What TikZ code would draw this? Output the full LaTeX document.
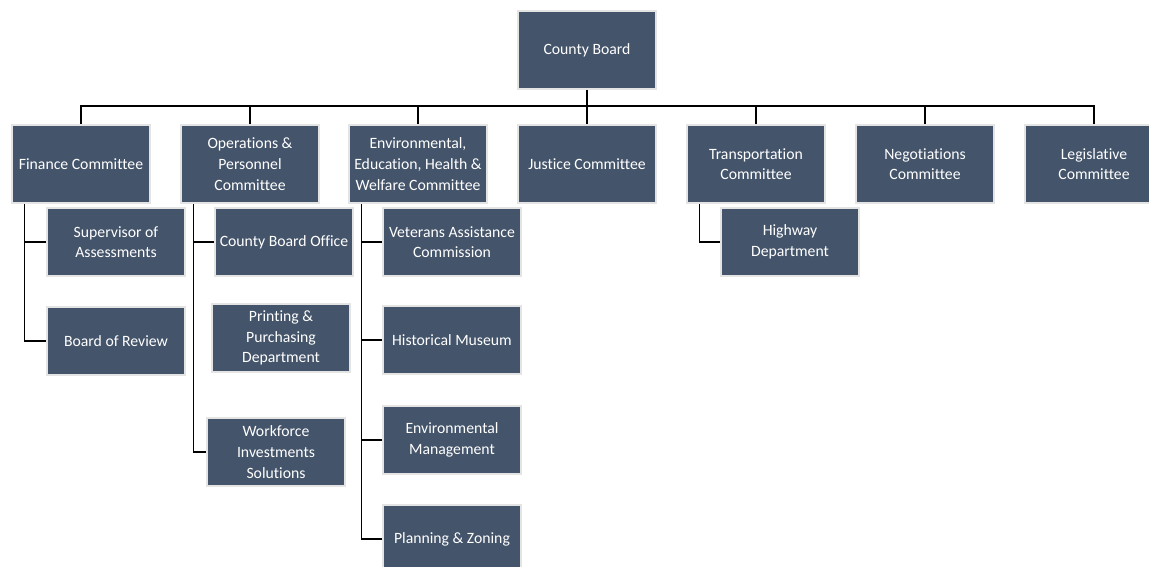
\documentclass[tikz,border=0pt]{standalone}
\usepackage{fontspec}
\setmainfont{Carlito}[Ligatures=CommonOff, RawFeature={-liga}]
\usetikzlibrary{positioning}
\definecolor{boxblue}{HTML}{44546A}
\definecolor{boxrim}{HTML}{E4E4E4}

\begin{document}
\begin{tikzpicture}[x=0.75pt, y=-0.75pt,
  unit/.style={draw=boxrim, line width=1.7pt, fill=boxblue, text=white,
    align=center, inner sep=0pt, font=\fontsize{11.8}{15.5}\selectfont},
  cmte/.style={unit, minimum width=104pt, minimum height=59pt},
  dept/.style={unit, minimum width=103pt, minimum height=51.5pt},
  link/.style={line width=1pt}]
  \useasboundingbox (0,0) rectangle (1149,567);

  %board and committees
  \node[cmte] (board) at (587,50) {County Board};
  \node[cmte] (fin)   at (81,164)   {Finance Committee};
  \node[cmte] (ops)   at (250,164)  {Operations \&\\ Personnel\\ Committee};
  \node[cmte] (env)   at (418,164)  {Environmental,\\ Education, Health \&\\ Welfare Committee};
  \node[cmte] (jus)   at (587,164)  {Justice Committee};
  \node[cmte] (trans) at (756,164)  {Transportation\\ Committee};
  \node[cmte] (neg)   at (925,164)  {Negotiations\\ Committee};
  \node[cmte] (leg)   at (1094,164) {Legislative\\ Committee};

  %departments
  \node[dept] (sup)   at (116,242) {Supervisor of\\ Assessments};
  \node[dept] (rev)   at (116,341) {Board of Review};
  \node[dept] (off)   at (284,242) {County Board Office};
  \node[dept] (print) at (281,338) {Printing \&\\ Purchasing\\ Department};
  \node[dept] (work)  at (276,452) {Workforce\\ Investments\\ Solutions};
  \node[dept] (vet)   at (452,242) {Veterans Assistance\\ Commission};
  \node[dept] (mus)   at (452,340) {Historical Museum};
  \node[dept] (envm)  at (452,440) {Environmental\\ Management};
  \node[dept] (plan)  at (452,539) {Planning \& Zoning};
  \node[dept] (hwy)   at (790,242) {Highway\\ Department};

  %bus
  \coordinate (bus) at (587,106);
  \draw[link] (board) -- (bus);
  \foreach \c in {fin,ops,env,jus,trans,neg,leg}
    \draw[link] (bus) -| (\c);

  %spines
  \foreach \p in {fin,ops,env,trans}
    \coordinate (\p sp) at ([xshift=10.5pt]\p.south west);
  \foreach \p/\d in {fin/sup,fin/rev,ops/off,ops/work,env/vet,env/mus,env/envm,env/plan,trans/hwy}
    \draw[link] (\p sp) |- (\d);
\end{tikzpicture}
\end{document}
